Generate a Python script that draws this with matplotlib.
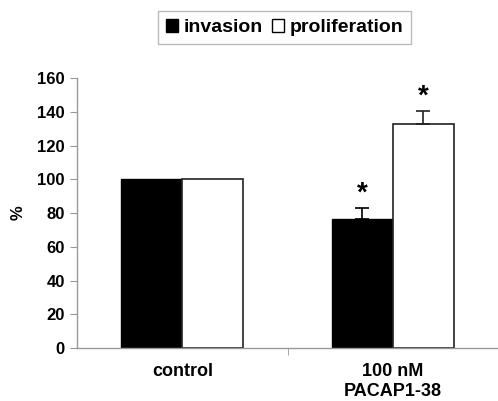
import matplotlib.pyplot as plt
import numpy as np
from matplotlib.patches import Patch
#-------------------------------
# Data
categories = ['control', '100 nM\nPACAP1-38']
invasion = [100, 76.3]
invasion_err = [0, 6.8]
proliferation = [100, 132.9]
proliferation_err = [0, 7.7]
yticks = [0, 20, 40, 60, 80, 100, 120, 140, 160]
#-------------------------------
plt.rcParams['font.family'] = ['Liberation Sans', 'DejaVu Sans']
plt.rcParams['font.weight'] = 'bold'

fig = plt.figure(figsize=(4.98, 4.01), dpi=100)
ax = fig.add_axes([0.155, 0.132, 0.845, 0.673])

x = np.arange(len(categories))
w = 0.29
ax.bar(x - w/2, invasion, w, color='black', edgecolor='black', linewidth=1)
ax.bar(x + w/2, proliferation, w, color='white', edgecolor='#222222', linewidth=1.2)

# error bars (upper only) and significance marks where an error is given
for i in range(len(categories)):
    if invasion_err[i] > 0:
        ax.errorbar(x[i] - w/2, invasion[i], yerr=[[0], [invasion_err[i]]], fmt='none',
                    ecolor='black', capsize=5, elinewidth=1.2, capthick=1.2)
        ax.text(x[i] - w/2, invasion[i] + invasion_err[i] + 1, '*', ha='center', va='bottom',
                fontsize=20, fontweight='bold')
    if proliferation_err[i] > 0:
        ax.errorbar(x[i] + w/2, proliferation[i], yerr=[[0], [proliferation_err[i]]], fmt='none',
                    ecolor='#222222', capsize=5, elinewidth=1.2, capthick=1.2)
        ax.text(x[i] + w/2, proliferation[i] + proliferation_err[i] + 1, '*', ha='center', va='bottom',
                fontsize=20, fontweight='bold')

ax.set_xlim(-0.5, 1.477)
ax.set_ylim(0, 160)
ax.set_yticks(yticks)
ax.set_xticks(x)
ax.set_xticklabels(categories, fontsize=13, fontweight='bold')
ax.set_xticks([0.5, 1.5], minor=True)
ax.tick_params(axis='x', which='major', length=0, pad=11)
ax.tick_params(axis='x', which='minor', length=5, color='#999999', direction='out')
ax.tick_params(axis='y', length=5, color='#999999', direction='out', labelsize=12, pad=4)
for lab in ax.get_yticklabels():
    lab.set_fontweight('bold')

for s in ['top', 'right']:
    ax.spines[s].set_visible(False)
for s in ['left', 'bottom']:
    ax.spines[s].set_color('#999999')
    ax.spines[s].set_linewidth(1)

fig.text(0.036, 0.47, '%', rotation=90, fontsize=12, fontweight='bold', ha='center', va='center')

handles = [Patch(facecolor='black', edgecolor='black', label='invasion'),
           Patch(facecolor='white', edgecolor='black', label='proliferation')]
fig.legend(handles=handles, loc='center', bbox_to_anchor=(0.572, 0.931), ncol=2,
           fontsize=14, frameon=True, fancybox=False, edgecolor='#aaaaaa',
           handlelength=0.6, handleheight=0.6, handletextpad=0.3, columnspacing=0.5,
           borderpad=0.4)

plt.savefig('out.png', dpi=100)
